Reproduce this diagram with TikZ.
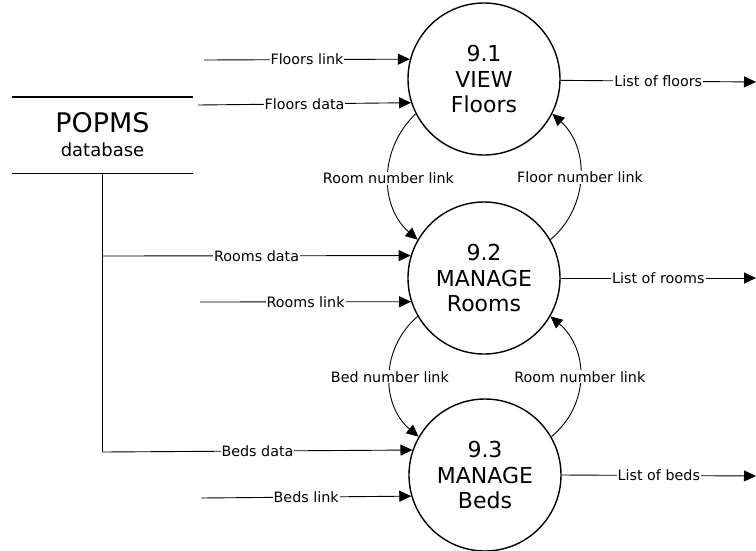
\documentclass[tikz,border=0pt]{standalone}
\usepackage{fontspec}
\setmainfont{DejaVu Sans}
\usetikzlibrary{arrows.meta}
\begin{document}
\begin{tikzpicture}[x=1pt,y=-1pt,
  proc/.style={circle,draw,line width=1.4pt,minimum size=152pt,inner sep=0pt,align=center,font=\fontsize{22}{25.5}\selectfont},
  flow/.style={line width=0.9pt,-{Triangle[length=12pt,width=11pt]}},
  plain/.style={line width=0.9pt},
  storeline/.style={line width=1.4pt},
  lbl/.style={fill=white,inner sep=1pt,font=\fontsize{14.3}{16}\selectfont}]
\useasboundingbox (0,0) rectangle (756,550);
% processes
\node[proc] (c1) at (484,79) {9.1\\VIEW\\Floors};
\node[proc] (c2) at (484,278) {9.2\\MANAGE\\Rooms};
\node[proc] (c3) at (485,475) {9.3\\MANAGE\\Beds};
% data store
\node[minimum width=181pt,minimum height=76pt,inner sep=0pt,align=center] (db) at (102.5,135)
  {{\fontsize{27}{27}\selectfont POPMS}\\[9pt]{\fontsize{18}{18}\selectfont database}};
\draw[storeline] (db.north west) -- (db.north east);
\draw[storeline] (db.south west) -- (db.south east);
% free ends
\coordinate (s1) at (204,60);
\coordinate (s2) at (198,105);
\coordinate (j2) at (102.5,256);
\coordinate (s4) at (200,302);
\coordinate (j3) at (102.5,452);
\coordinate (s6) at (201,498);
\coordinate (o1) at (756,82);
\coordinate (o2) at (756,278);
\coordinate (o3) at (756,476);
% inbound flows
\draw[flow] (s1) -- node[lbl]{Floors link} (c1.165.5);
\draw[flow] (s2) -- node[lbl]{Floors data} (c1.198.4);
\draw[plain] (db.south) -- (j3);
\draw[flow] (j2) -- node[lbl]{Rooms data} (c2.163.2);
\draw[flow] (s4) -- node[lbl]{Rooms link} (c2.198.4);
\draw[flow] (j3) -- node[lbl]{Beds data} (c3.161.6);
\draw[flow] (s6) -- node[lbl]{Beds link} (c3.196.8);
% outbound flows
\draw[flow] (c1.-1.5) -- node[lbl]{List of floors} (o1);
\draw[flow] (c2.east) -- node[lbl]{List of rooms} (o2);
\draw[flow] (c3.-0.8) -- node[lbl]{List of beds} (o3);
% links between processes
\draw[flow] (c1.207.5) .. controls (378,150) and (380,207) .. node[lbl]{Room number link} (c2.150);
\draw[flow] (c2.30) .. controls (589,207) and (590,148) .. node[lbl]{Floor number link} (c1.-27);
\draw[flow] (c2.210) .. controls (380,349) and (381,405) .. node[lbl]{Bed number link} (c3.150);
\draw[flow] (c3.30) .. controls (590,405) and (589,349) .. node[lbl]{Room number link} (c2.-30);
\end{tikzpicture}
\end{document}
